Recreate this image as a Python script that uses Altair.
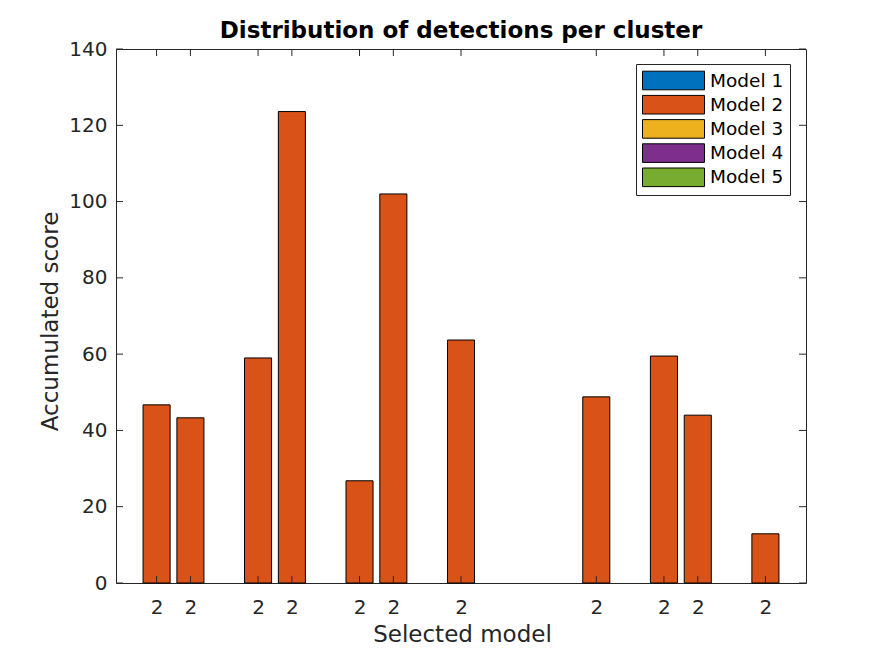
import altair as alt
import pandas as pd

# ---- data ----
positions = [1, 2, 4, 5, 7, 8, 10, 14, 16, 17, 19]
scores = [46.7, 43.3, 59.0, 123.6, 26.8, 102.0, 63.7, 48.8, 59.5, 44.0, 12.9]
selected = ["Model 2"] * 11
model_names = ["Model 1", "Model 2", "Model 3", "Model 4", "Model 5"]
model_colors = ["#0072BD", "#D95319", "#EDB120", "#7E2F8E", "#77AC30"]
ytick_values = [0, 20, 40, 60, 80, 100, 120, 140]
x_domain = [-0.2, 20.2]
y_domain = [0, 140]

W, H = 690, 534
FONT = "DejaVu Sans"
AX = "#262626"
TL = 7

df = pd.DataFrame({"pos": positions, "score": scores, "model": selected})
yt = pd.DataFrame({"v": ytick_values})

xscale = alt.Scale(domain=x_domain, nice=False, zero=False)
yscale = alt.Scale(domain=y_domain, nice=False)

bars = alt.Chart(df).transform_calculate(
    x0="datum.pos - 0.4", x1="datum.pos + 0.4"
).mark_rect(stroke="black", strokeWidth=1, opacity=1).encode(
    x=alt.X("x0:Q", scale=xscale, title="Selected model",
            axis=alt.Axis(values=positions, labelExpr="'2'", tickSize=0, domain=False,
                          grid=False, labelFontSize=20, labelColor=AX, labelFont=FONT,
                          labelBaseline="alphabetic", labelPadding=30,
                          titleFontSize=23, titleFont=FONT, titleColor=AX, titleFontWeight="normal",
                          titleBaseline="alphabetic", titleX=346, titleY=58)),
    x2="x1:Q",
    y=alt.Y("score:Q", scale=yscale, title="Accumulated score",
            axis=alt.Axis(values=ytick_values, tickSize=0, domain=False, grid=False,
                          labelFontSize=20, labelColor=AX, labelFont=FONT, labelPadding=9,
                          labelBaseline="middle",
                          titleFontSize=23, titleFont=FONT, titleColor=AX, titleFontWeight="normal",
                          titleBaseline="alphabetic", titleX=-59, titleY=272, titleAngle=270)),
    y2=alt.datum(0),
    color=alt.Color("model:N", scale=alt.Scale(domain=model_names, range=model_colors),
                    legend=alt.Legend(title=None, orient="none", legendX=520, legendY=15,
                                      symbolType="M-1,-0.93H5.2V0.93H-1Z", symbolSize=400,
                                      symbolStrokeColor="black", symbolStrokeWidth=1,
                                      symbolOpacity=1,
                                      labelFontSize=18.5, labelFont=FONT, labelColor="black",
                                      labelOffset=47, rowPadding=1.2, padding=6,
                                      strokeColor=AX, fillColor="white")),
)

xt_bottom = alt.Chart(df).mark_rule(color=AX, strokeWidth=1).encode(
    x=alt.X("pos:Q", scale=xscale), y=alt.value(H), y2=alt.value(H - TL))
xt_top = alt.Chart(df).mark_rule(color=AX, strokeWidth=1).encode(
    x=alt.X("pos:Q", scale=xscale), y=alt.value(0), y2=alt.value(TL))
yt_left = alt.Chart(yt).mark_rule(color=AX, strokeWidth=1).encode(
    y=alt.Y("v:Q", scale=yscale), x=alt.value(0), x2=alt.value(TL))
yt_right = alt.Chart(yt).mark_rule(color=AX, strokeWidth=1).encode(
    y=alt.Y("v:Q", scale=yscale), x=alt.value(W - TL), x2=alt.value(W))

chart = alt.layer(bars, xt_bottom, xt_top, yt_left, yt_right).properties(
    width=W, height=H,
    background="white",
    title=alt.TitleParams("Distribution of detections per cluster", fontSize=23, font=FONT,
                          fontWeight="bold", color="black", offset=-4),
    autosize=alt.AutoSizeParams(type="none"),
    padding={"left": 108, "top": 41, "right": 77, "bottom": 65},
).configure_view(stroke=AX, strokeWidth=1)

chart.save("out.html", embed_options={"renderer": "svg", "actions": False})
